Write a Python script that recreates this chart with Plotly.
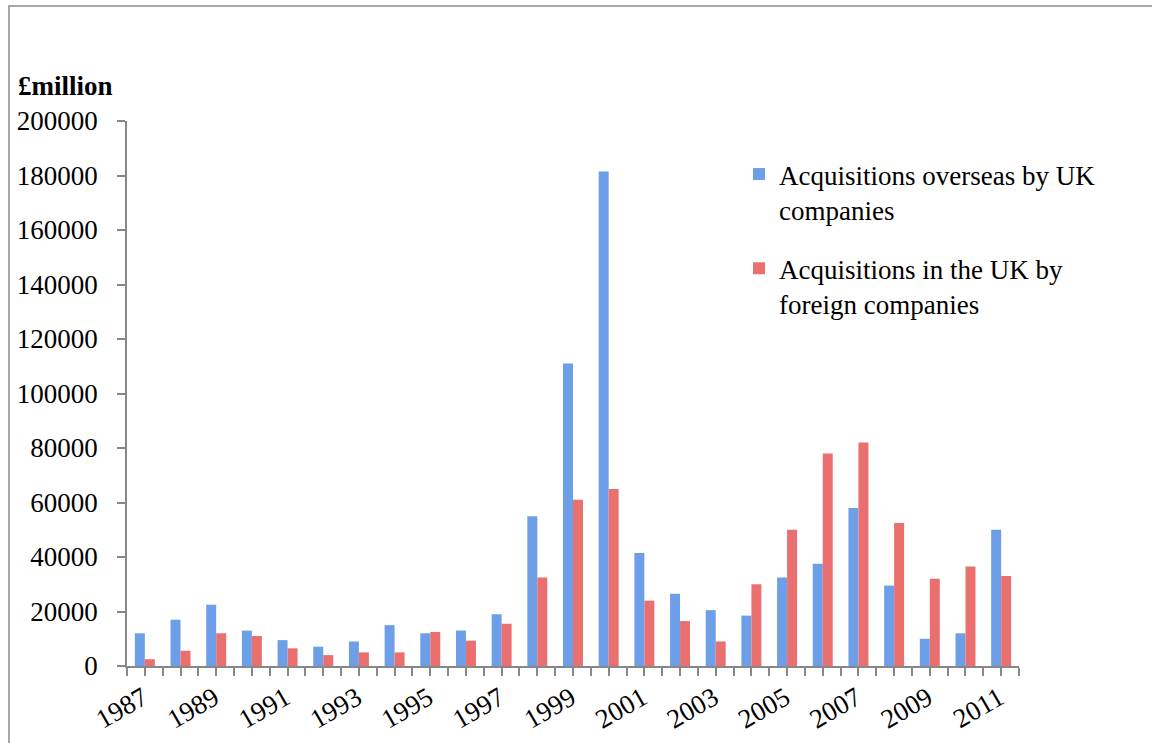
import plotly.graph_objects as go

# Annual value of cross-border acquisitions, £ million
years = list(range(1987, 2012))
acq_overseas_by_uk = [12000, 17000, 22500, 13000, 9500, 7100, 9000, 15000, 12000,
                      13000, 19000, 55000, 111000, 181500, 41500, 26500, 20500,
                      18500, 32500, 37500, 58000, 29500, 10000, 12000, 50000]
acq_in_uk_by_foreign = [2500, 5600, 12000, 11000, 6500, 4000, 5000, 5000, 12500,
                        9300, 15500, 32500, 61000, 65000, 24000, 16500, 9000,
                        30000, 50000, 78000, 82000, 52500, 32000, 36500, 33000]

series_names = ["Acquisitions overseas by UK<br>companies",
                "Acquisitions in the UK by<br>foreign companies"]
x_tick_labels = ["1987", "1989", "1991", "1993", "1995", "1997", "1999",
                 "2001", "2003", "2005", "2007", "2009", "2011"]
y_tick_values = [0, 20000, 40000, 60000, 80000, 100000, 120000, 140000,
                 160000, 180000, 200000]

W, H = 1152, 743
ML, MR, MT, MB = 127, 133, 121, 77
PW, PH = W - ML - MR, H - MT - MB

FONT = "Liberation Serif"
AXIS_GREY = "#878787"


def px_to_paper_x(px):
    return (px - ML) / PW


def px_to_paper_y(py):
    return (H - MB - py) / PH


fig = go.Figure()
fig.add_trace(go.Bar(x=years, y=acq_overseas_by_uk, name=series_names[0],
                     marker=dict(color="#6d9fe9", line=dict(width=0)),
                     legendgroup="a"))
fig.add_trace(go.Bar(x=years, y=acq_in_uk_by_foreign, name=series_names[1],
                     marker=dict(color="#ea7070", line=dict(width=0)),
                     legendgroup="b"))

fig.update_layout(
    width=W, height=H,
    margin=dict(l=ML, r=MR, t=MT, b=MB, autoexpand=False),
    paper_bgcolor="white", plot_bgcolor="white",
    barmode="group", bargap=0.44, bargroupgap=0,
    font=dict(family=FONT, size=27, color="black"),
    showlegend=True,
    legend=dict(x=px_to_paper_x(739), y=px_to_paper_y(150),
                xanchor="left", yanchor="top",
                bgcolor="rgba(0,0,0,0)", valign="top",
                tracegroupgap=21, font=dict(family=FONT, size=27)),
    xaxis=dict(range=[1986.5, 2011.5], tickmode="array",
               tickvals=[int(t) for t in x_tick_labels], ticktext=x_tick_labels,
               tickangle=-30, ticks="outside", ticklen=8, tickwidth=1.5,
               tickcolor=AXIS_GREY, showline=True, linecolor=AXIS_GREY,
               linewidth=1.5, showgrid=False, zeroline=False,
               ticklabelstandoff=-4, ticklabelshift=-2,
               minor=dict(ticks="outside", tick0=1986.5, dtick=0.5, ticklen=8,
                          tickwidth=1.5, tickcolor=AXIS_GREY, showgrid=False),
               tickfont=dict(family=FONT, size=27)),
    yaxis=dict(range=[0, 200000], tickmode="array", tickvals=y_tick_values,
               ticktext=[str(v) for v in y_tick_values],
               ticks="outside", ticklen=8, tickwidth=1.5, tickcolor=AXIS_GREY,
               showline=True, linecolor=AXIS_GREY, linewidth=1.5,
               showgrid=False, zeroline=False, ticklabelstandoff=14,
               tickfont=dict(family=FONT, size=27)),
)

# axis unit label
fig.add_annotation(text="<b>£million</b>", xref="paper", yref="paper",
                   x=px_to_paper_x(16), y=px_to_paper_y(86),
                   xanchor="left", yanchor="middle", showarrow=False,
                   font=dict(family=FONT, size=27, color="black"))

# outer frame around the chart
fig.add_shape(type="rect", xref="paper", yref="paper",
              x0=px_to_paper_x(9), x1=px_to_paper_x(W + 20),
              y0=px_to_paper_y(H + 20), y1=px_to_paper_y(6),
              line=dict(color="#8c8c8c", width=1.5), fillcolor="rgba(0,0,0,0)",
              layer="below")

fig.write_html("out.html")
